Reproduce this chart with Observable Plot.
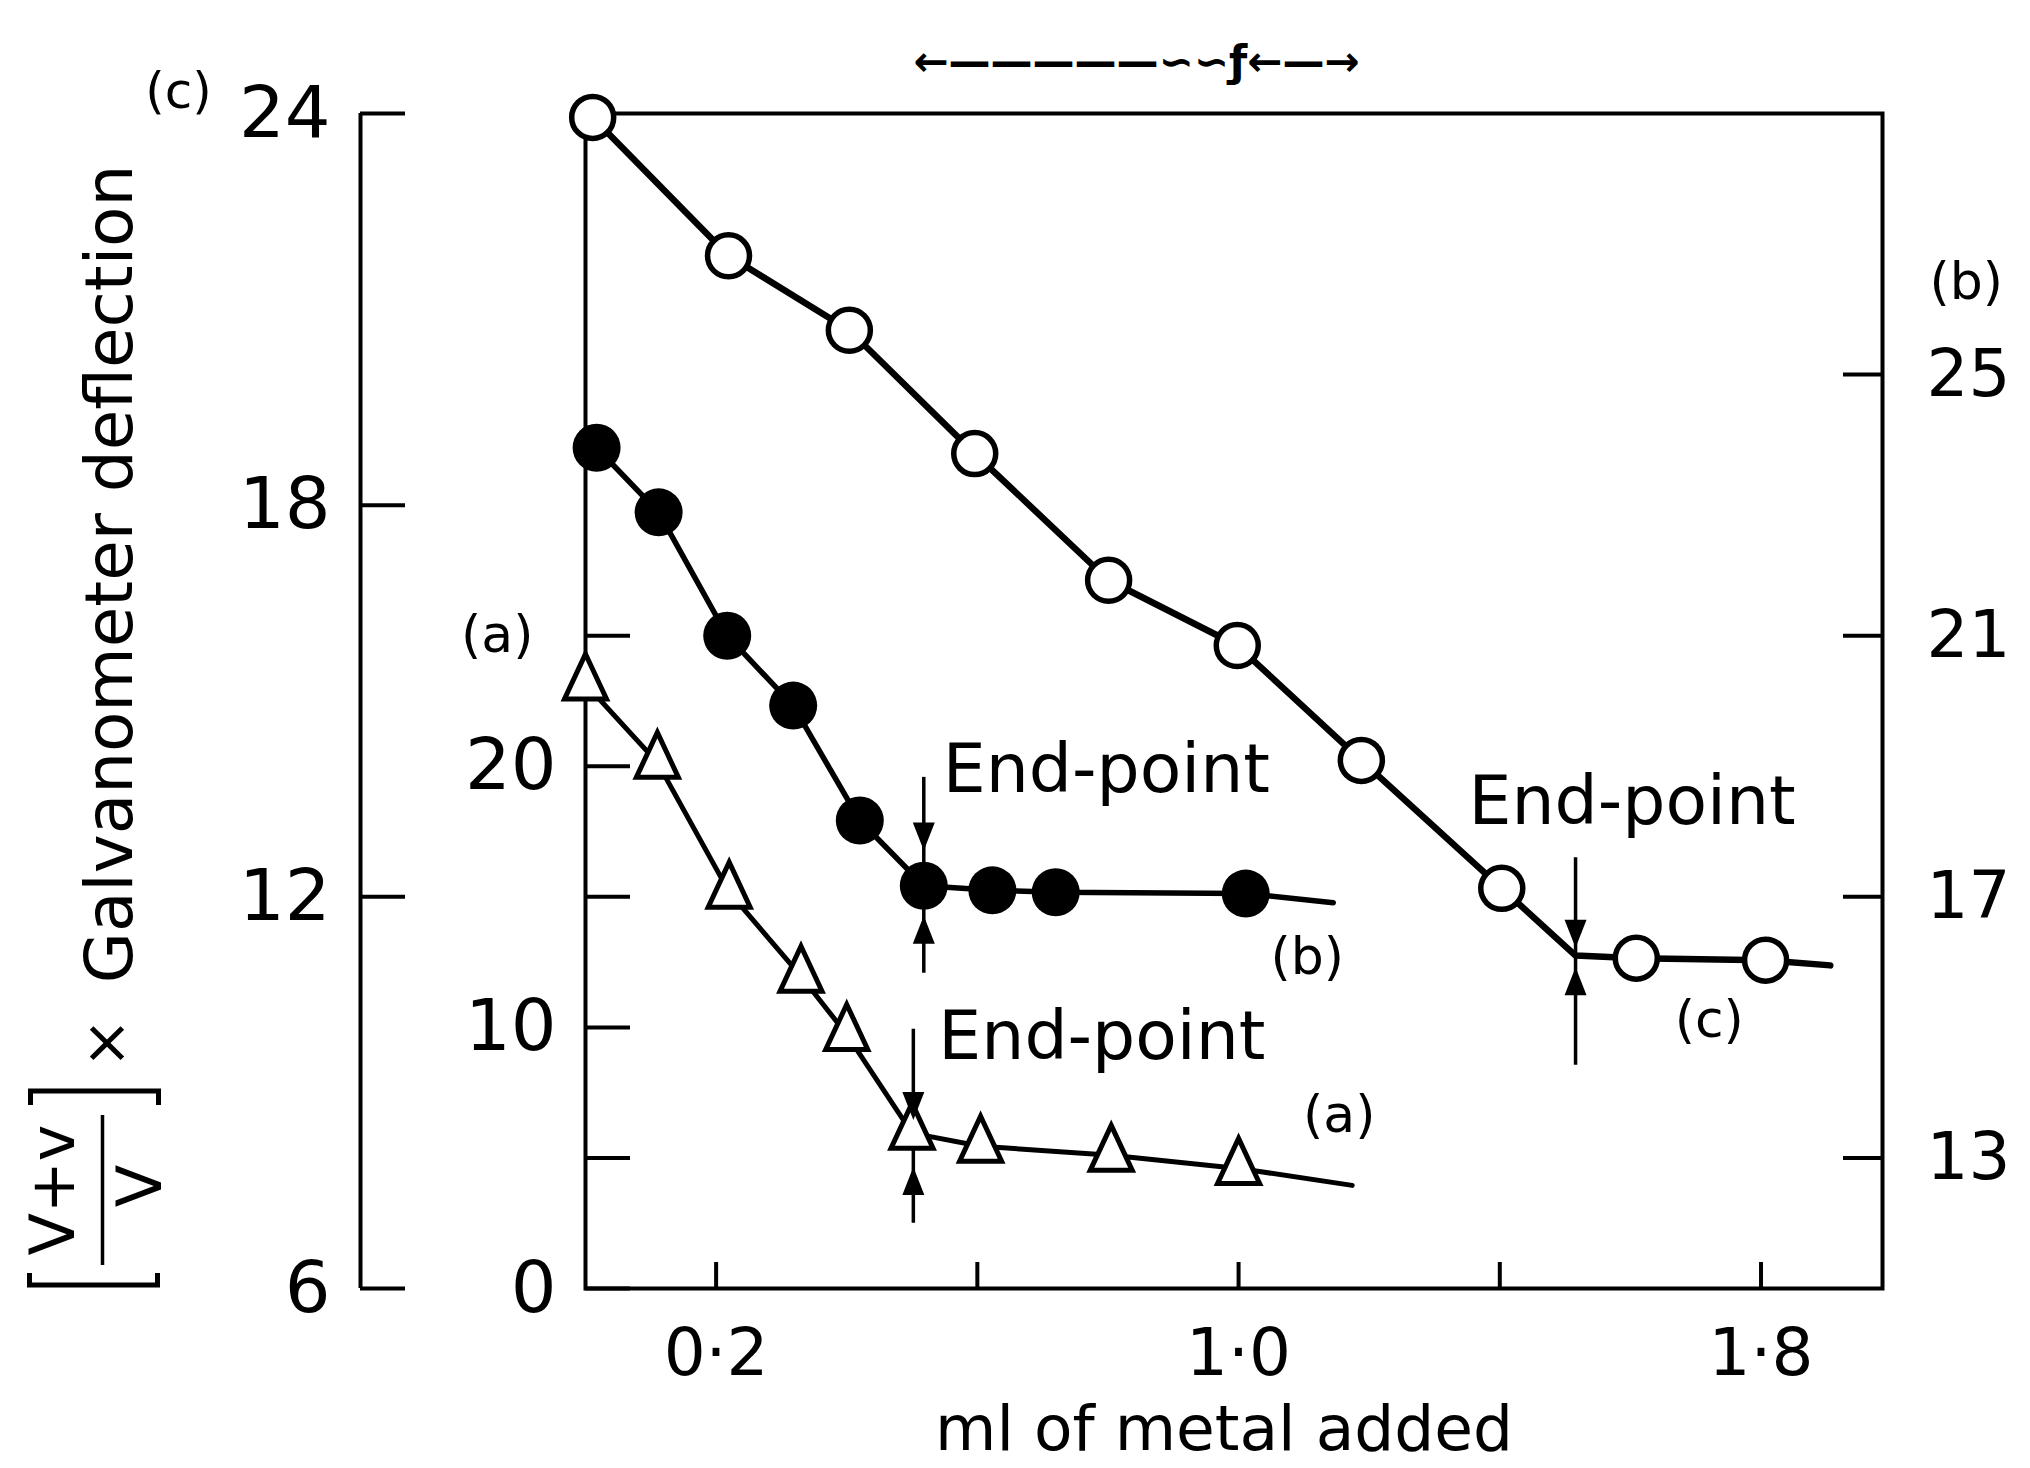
<!DOCTYPE html>
<html>
<head>
<meta charset="utf-8">
<script src="https://cdn.jsdelivr.net/npm/d3@7"></script>
<script src="https://cdn.jsdelivr.net/npm/@observablehq/plot@0.6"></script>
<style>
  html, body { margin: 0; padding: 0; background: #fff; }
  #chart svg { display: block; }
</style>
</head>
<body>
<div id="chart"></div>
<script>
// ---------------- data ----------------
// x: ml of metal added
// Series (a): open triangles, read on the inner axis (0–25)
const xA = [0.00, 0.11, 0.22, 0.33, 0.40, 0.50, 0.605, 0.805, 1.00];
const yA = [23.15, 20.15, 15.18, 11.96, 9.73, 5.95, 5.45, 5.10, 4.60];
const tailA = [1.174, 3.95];

// Series (b): filled circles, read on the right-hand axis (13–25)
const xB = [0.017, 0.112, 0.217, 0.318, 0.42, 0.518, 0.623, 0.72, 1.011];
const yB = [23.88, 22.89, 21.00, 19.93, 18.17, 17.17, 17.10, 17.07, 17.05];
const tailB = [1.145, 16.91];

// Series (c): open circles, read on the outer left axis (6–24)
const xC = [0.011, 0.219, 0.404, 0.596, 0.801, 0.998, 1.188, 1.403, 1.609, 1.807];
const yC = [23.94, 21.82, 20.68, 18.79, 16.85, 15.85, 14.09, 12.13, 11.06, 11.03];
const tailC = [1.906, 10.95];

// End-points (series, x, value in own units, arrow extent and arrow-head tips)
const endSeries = ["b", "a", "c"];
const endX = [0.518, 0.502, 1.516];
const endY = [17.17, 5.95, 11.10];
const arrowTop = [18.83, 9.93, 12.60];
const arrowBottom = [15.83, 2.50, 9.42];
const headDown = [17.71, 6.45, 11.22];
const headUp = [16.71, 4.65, 10.92];

// Axis ticks
const cTicks = [6, 12, 18, 24];
const aTicks = [0, 5, 10, 15, 20, 25];
const aTickLabels = [0, 10, 20];
const bTicks = [13, 17, 21, 25];
const xTicks = [0.2, 0.6, 1.0, 1.4, 1.8];
const xTickLabels = [0.2, 1.0, 1.8];

// ---------------- scale relations between the three y axes ----------------
// The plot's y scale is the (c) axis; (a) and (b) are linear re-labellings of it.
const fromA = a => 6 + 0.4 * a;
const fromB = b => b - 5;
const fromC = c => c;
const conv = {a: fromA, b: fromB, c: fromC};

const pts = (xs, ys, f) => xs.map((x, i) => ({x, y: f(ys[i])}));
const ptsA = pts(xA, yA, fromA);
const ptsB = pts(xB, yB, fromB);
const ptsC = pts(xC, yC, fromC);

const ends = endSeries.map((s, i) => ({
  s, x: endX[i], y: conv[s](endY[i]),
  top: conv[s](arrowTop[i]), bottom: conv[s](arrowBottom[i]),
  hd: conv[s](headDown[i]), hu: conv[s](headUp[i])
}));

const lineA = [...ptsA, {x: tailA[0], y: fromA(tailA[1])}];
const lineB = [...ptsB, {x: tailB[0], y: fromB(tailB[1])}];
const lineC = [...ptsC, {x: ends[2].x, y: ends[2].y}, {x: tailC[0], y: fromC(tailC[1])}]
  .sort((p, q) => p.x - q.x);

// ---------------- symbols ----------------
const triSym = {draw(ctx) { ctx.moveTo(0, -30); ctx.lineTo(21, 15); ctx.lineTo(-21, 15); ctx.closePath(); }};
const headDownSym = {draw(ctx) { ctx.moveTo(0, 0); ctx.lineTo(-11, -28); ctx.lineTo(11, -28); ctx.closePath(); }};
const headUpSym = {draw(ctx) { ctx.moveTo(0, 0); ctx.lineTo(-11, 28); ctx.lineTo(11, 28); ctx.closePath(); }};
const barSym = {draw(ctx) { ctx.moveTo(0, -75); ctx.lineTo(0, 75); }};
const brTopSym = {draw(ctx) { ctx.moveTo(-64, 14); ctx.lineTo(-64, 0); ctx.lineTo(64, 0); ctx.lineTo(64, 14); }};
const brBotSym = {draw(ctx) { ctx.moveTo(-64, -12); ctx.lineTo(-64, 0); ctx.lineTo(64, 0); ctx.lineTo(64, -12); }};

const font = "DejaVu Sans";
const T = (txt, o) => Plot.text([txt], {text: d => d, fontFamily: font, fill: "black",
  textAnchor: "middle", lineAnchor: "middle", ...o});

const chart = Plot.plot({
  width: 2030,
  height: 1468,
  marginLeft: 585,
  marginRight: 148,
  marginTop: 113,
  marginBottom: 180,
  style: {fontFamily: font, background: "white", color: "black"},
  x: {domain: [0, 1.986]},
  y: {domain: [6, 24]},
  marks: [
    Plot.frame({strokeWidth: 4}),
    // outer (c) axis
    Plot.ruleX([0], {dx: -225, strokeWidth: 4}),
    Plot.axisY({ticks: cTicks, anchor: "left", tickSize: -45, dx: -225, fill: "none", strokeWidth: 4, label: null}),
    Plot.axisY({ticks: cTicks, anchor: "left", tickSize: 0, tickPadding: 30, dx: -225, fontSize: 72, fontFamily: font, label: null}),
    // inner (a) axis
    Plot.axisY({ticks: aTicks.map(fromA), anchor: "left", tickSize: -45, fill: "none", strokeWidth: 4, label: null}),
    Plot.axisY({ticks: aTickLabels.map(fromA), anchor: "left", tickSize: 0, tickPadding: 29,
      tickFormat: c => String(Math.round((c - 6) / 0.4)), fontSize: 72, fontFamily: font, label: null}),
    // right (b) axis
    Plot.axisY({ticks: bTicks.map(fromB), anchor: "right", tickSize: -40, fill: "none", strokeWidth: 4, label: null}),
    Plot.axisY({ticks: bTicks.map(fromB), anchor: "right", tickSize: 0, tickPadding: 44,
      tickFormat: c => String(Math.round(c + 5)), fontSize: 66, fontFamily: font, label: null}),
    // x axis
    Plot.axisX({ticks: xTicks, anchor: "bottom", tickSize: -26, fill: "none", strokeWidth: 4, label: null}),
    Plot.axisX({ticks: xTickLabels, anchor: "bottom", tickSize: 0, tickPadding: 40,
      tickFormat: d => d.toFixed(1).replace(".", "·"), fontSize: 66, fontFamily: font, label: null}),

    // end-point arrows
    Plot.ruleX(ends, {x: "x", y1: "top", y2: "bottom", strokeWidth: 3.5}),

    // series lines
    Plot.line(lineA, {x: "x", y: "y", strokeWidth: 5, strokeLinejoin: "round"}),
    Plot.line(lineB, {x: "x", y: "y", strokeWidth: 5.5, strokeLinejoin: "round"}),
    Plot.line(lineC, {x: "x", y: "y", strokeWidth: 6.5, strokeLinejoin: "round"}),

    // markers
    Plot.dot(ptsA, {x: "x", y: "y", symbol: triSym, fill: "white", stroke: "black", strokeWidth: 5}),
    Plot.dot(ptsB, {x: "x", y: "y", r: 24, fill: "black", stroke: "none"}),
    Plot.dot(ptsC, {x: "x", y: "y", r: 21, fill: "white", stroke: "black", strokeWidth: 5.5}),

    Plot.dot(ends, {x: "x", y: "hd", symbol: headDownSym, fill: "black", stroke: "none"}),
    Plot.dot(ends, {x: "x", y: "hu", symbol: headUpSym, fill: "black", stroke: "none"}),

    // End-point labels
    T("End-point", {x: () => ends[0].x, y: () => ends[0].y, dx: 19, dy: -116, textAnchor: "start", fontSize: 68}),
    T("End-point", {x: () => ends[1].x, y: () => ends[1].y, dx: 25, dy: -96, textAnchor: "start", fontSize: 68}),
    T("End-point", {x: () => ends[2].x, y: () => ends[2].y, dx: -107, dy: -153, textAnchor: "start", fontSize: 68}),

    // series labels at the ends of the lines
    T("(b)", {x: () => tailB[0], y: () => fromB(tailB[1]), dx: -26, dy: 55, fontSize: 52}),
    T("(a)", {x: () => tailA[0], y: () => fromA(tailA[1]), dx: -13, dy: -70, fontSize: 52}),
    T("(c)", {x: () => tailC[0], y: () => fromC(tailC[1]), dx: -121, dy: 55, fontSize: 52}),

    // axis identifiers
    T("(c)", {frameAnchor: "left", y: () => cTicks[3], dx: -407, dy: -22, fontSize: 50}),
    T("(a)", {frameAnchor: "left", y: () => fromA(aTicks[5]), dx: -52, textAnchor: "end", fontSize: 52}),
    T("(b)", {frameAnchor: "right", y: () => fromB(bTicks[3]), dx: 47, dy: -92, textAnchor: "start", fontSize: 52}),

    // x-axis title
    T("ml of metal added", {frameAnchor: "bottom", dx: -10, dy: 141, fontSize: 63}),

    // y-axis title:  [ (V+v)/V ] × Galvanometer deflection
    T("Galvanometer deflection", {frameAnchor: "left", rotate: -90, dx: -475, dy: -127, fontSize: 66}),
    T("×", {frameAnchor: "left", rotate: -90, dx: -479, dy: 342, fontSize: 60}),
    T("V+v", {frameAnchor: "left", rotate: -90, dx: -531, dy: 489, fontSize: 62}),
    T("V", {frameAnchor: "left", rotate: -90, dx: -444, dy: 485, fontSize: 62}),
    Plot.dot([0], {frameAnchor: "left", symbol: barSym, dx: -483, dy: 489, fill: "none", stroke: "black", strokeWidth: 3.5}),
    Plot.dot([0], {frameAnchor: "left", symbol: brTopSym, dx: -491, dy: 390, fill: "none", stroke: "black", strokeWidth: 5}),
    Plot.dot([0], {frameAnchor: "left", symbol: brBotSym, dx: -492, dy: 584, fill: "none", stroke: "black", strokeWidth: 5}),

    // hand-written mark above the frame
    T("←—————∽∽ƒ←—→", {frameAnchor: "top-left", dx: 551, dy: -51, fontSize: 42, fontWeight: "bold"})
  ]
});

document.getElementById("chart").appendChild(chart);
</script>
</body>
</html>
